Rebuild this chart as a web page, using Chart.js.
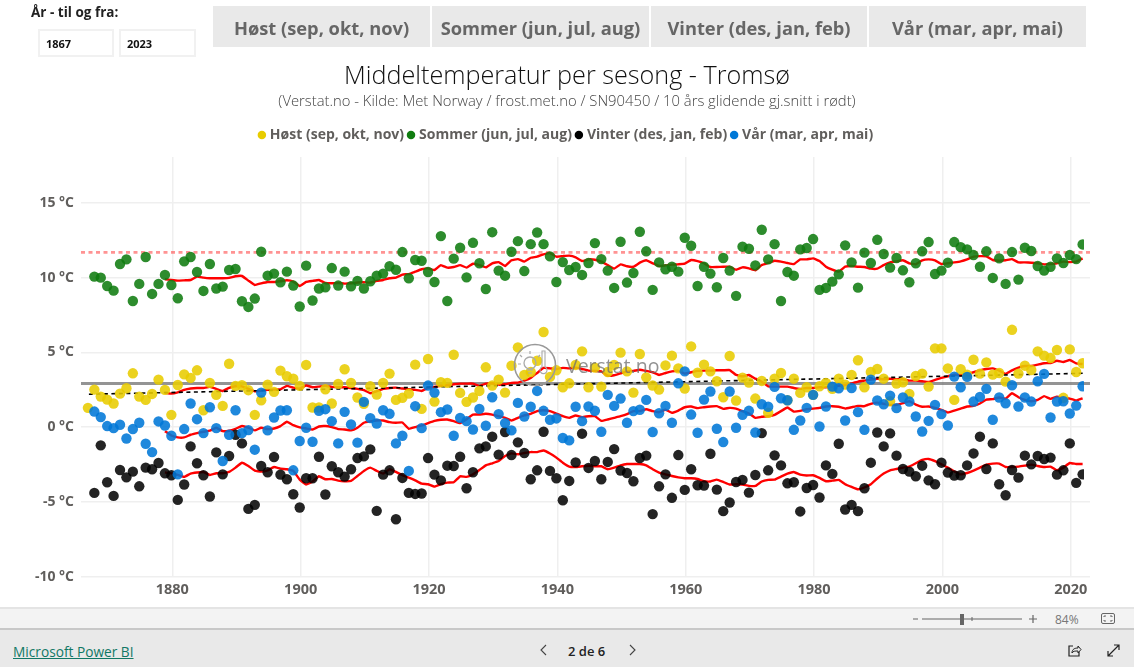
<!DOCTYPE html>
<html lang="no">
<head>
<meta charset="utf-8">
<title>Middeltemperatur per sesong - Tromsø</title>
<script src="https://cdn.jsdelivr.net/npm/chart.js@4"></script>
<style>
  html, body { margin: 0; padding: 0; background: #fff; width: 1134px; height: 667px; overflow: hidden; font-family: "Open Sans", sans-serif; }
  #wrap { position: absolute; left: 0; top: 0; width: 1134px; height: 607px; }
  .abs { position: absolute; }
  #sliceTitle { left: 31px; top: 3px; font-size: 13.5px; font-weight: 700; color: #222; }
  .yearBox { top: 29px; height: 28px; border: 2px solid #f1f1f1; box-sizing: border-box; font-size: 11px; font-weight: 700; line-height: 26px; padding-left: 6px; color: #111; }
  .season { top: 6px; height: 41px; background: #e9e9e9; color: #666; font-size: 18.3px; font-weight: 700; text-align: center; line-height: 43px; }
  #zoomBar { left: 0; top: 607px; width: 1134px; height: 23px; background: #f3f3f3; border-top: 2px solid #e4e4e4; border-bottom: 2px solid #c8c8c8; box-sizing: border-box; }
  #footBar { left: 0; top: 630px; width: 1134px; height: 37px; background: #e9e9e9; }
  #pbi { left: 13px; top: 642px; font-size: 13.7px; color: #117865; text-decoration: underline; }
  #page { left: 568px; top: 642px; font-size: 13px; font-weight: 600; color: #222; }
  #pct { left: 1055px; top: 611px; font-size: 12px; color: #777; }
  #watermark { left: 513px; top: 343px; width: 160px; height: 46px; pointer-events: none; }
  #wmText { left: 566px; top: 352px; font-size: 19.5px; color: rgba(110,110,110,.75); }
</style>
</head>
<body>
<div id="wrap"><canvas id="chart" width="1134" height="607"></canvas></div>

<div class="abs" id="sliceTitle">År - til og fra:</div>
<div class="abs yearBox" style="left:38px;width:76px">1867</div>
<div class="abs yearBox" style="left:119px;width:77px">2023</div>
<div class="abs season" style="left:213px;width:217px">Høst (sep, okt, nov)</div>
<div class="abs season" style="left:432px;width:217px">Sommer (jun, jul, aug)</div>
<div class="abs season" style="left:651px;width:216px">Vinter (des, jan, feb)</div>
<div class="abs season" style="left:869px;width:217px">Vår (mar, apr, mai)</div>

<svg class="abs" id="watermark" viewBox="0 0 160 46">
  <circle cx="22" cy="22" r="20.5" fill="none" stroke="#999" stroke-width="1.6"/>
  <circle cx="17" cy="20" r="6" fill="none" stroke="#aaa" stroke-width="1.3"/>
  <path d="M17 8v3M7 12l2 2M5 21h3M27 12l-2 2M14 27h6M15 30h4" stroke="#aaa" stroke-width="1.2" fill="none"/>
  <path d="M29 8v16a3.5 3.5 0 1 0 3 0V8z" fill="none" stroke="#aaa" stroke-width="1.1"/>
</svg>
<div class="abs" id="wmText">Verstat.no</div>

<div class="abs" id="zoomBar"></div>
<div class="abs" id="footBar"></div>
<a class="abs" id="pbi">Microsoft Power BI</a>
<svg class="abs" style="left:538px;top:643px" width="12" height="14"><path d="M8 2L3 7l5 5" fill="none" stroke="#444" stroke-width="1.1"/></svg>
<div class="abs" id="page">2 de 6</div>
<svg class="abs" style="left:626px;top:643px" width="12" height="14"><path d="M4 2l5 5-5 5" fill="none" stroke="#444" stroke-width="1.1"/></svg>
<svg class="abs" style="left:910px;top:612px" width="130" height="14">
  <path d="M3 7h5M12 7h100M119 7h8M123 3v8" stroke="#666" stroke-width="1.2" fill="none"/>
  <rect x="50" y="2" width="4" height="11" fill="#666"/>
  <path d="M62 5v4" stroke="#666"/>
</svg>
<div class="abs" id="pct">84%</div>
<svg class="abs" style="left:1100px;top:612px" width="16" height="14"><rect x="1.5" y="1.5" width="13" height="10" rx="1.5" fill="none" stroke="#666"/><path d="M4 5V4h2M10 4h2v1M4 8v1h2M12 8v1h-2" stroke="#666" fill="none"/></svg>
<svg class="abs" style="left:1067px;top:643px" width="15" height="15"><path d="M6 3H2v10h10V9" fill="none" stroke="#222" stroke-width="1.2"/><path d="M5 10c0-4 3-5 6-5V3l3 3.5L11 10V8c-3 0-5 0-6 2z" fill="none" stroke="#222" stroke-width="1"/></svg>
<svg class="abs" style="left:1106px;top:643px" width="15" height="15"><path d="M2 13L13 2M8 2h5v5M2 8v5h5" fill="none" stroke="#222" stroke-width="1.2"/></svg>

<script>
// x axis bounds and ticks
var xMin = 1865.77;
var xMax = 2023.0;
var xTicks = [1880, 1900, 1920, 1940, 1960, 1980, 2000, 2020];
var yTicks = [-10, -5, 0, 5, 10, 15];

// points sit a little left of the year gridline in the original
var yearShift = -0.15;

// season means, autumn from 1867, the others from 1868
var host = [1.29,2.51,2.04,1.84,1.58,2.24,2.6,3.6,2.04,1.82,2.22,3.18,2.49,0.82,2.82,3.53,3.29,3.8,1.13,2.96,2.16,1.42,4.24,2.76,2.8,2.47,0.82,1.8,2.84,2.36,3.78,3.4,3.24,2.76,4.16,1.31,1.31,2.53,1.58,2.89,3.87,2.96,1.98,1.56,2.73,2.18,2.96,3.58,1.82,1.96,2.24,4.18,1.22,4.56,1.71,3.0,2.96,4.84,2.29,1.69,1.98,2.42,4.0,2.78,3.18,2.31,4.11,5.33,3.49,3.69,4.44,6.36,3.36,3.8,2.67,2.93,4.16,5.07,2.67,3.98,2.71,3.69,4.16,4.98,3.73,2.31,4.89,3.33,2.78,2.51,4.13,4.78,3.93,2.58,5.4,3.64,4.18,3.73,3.07,2.0,4.76,1.78,3.31,2.98,1.91,3.09,0.96,3.24,3.62,1.8,3.24,2.29,2.67,2.16,2.73,2.96,2.56,3.24,2.84,3.49,4.47,2.67,3.69,3.89,3.24,1.73,2.91,3.0,2.22,3.42,3.58,2.71,5.27,5.27,3.93,1.82,3.87,3.51,4.51,3.58,4.33,3.51,3.62,3.04,6.51,3.58,4.11,3.82,5.07,4.78,4.62,5.16,1.96,5.2,3.69,4.27];
var sommer = [10.07,10.0,9.44,9.13,10.91,11.22,8.44,9.58,11.38,8.91,9.58,10.18,9.51,8.62,11.09,11.38,10.38,9.11,10.91,9.27,9.4,10.51,10.58,8.42,8.04,8.6,11.73,10.13,10.27,9.69,10.4,9.47,8.07,10.8,8.47,9.27,9.36,10.64,9.47,10.4,9.42,9.78,9.27,9.76,10.13,10.27,10.76,10.53,11.71,9.96,11.18,11.13,10.38,9.71,12.78,8.44,11.27,12.0,10.02,12.33,10.96,9.24,13.04,10.47,10.13,11.73,12.44,10.44,12.24,13.02,12.24,11.42,9.71,11.04,10.51,10.71,10.18,10.98,12.31,11.24,10.47,9.31,12.4,9.67,10.31,13.07,11.76,9.18,11.02,10.56,10.73,10.4,12.67,12.13,9.44,10.73,10.27,9.36,11.31,10.47,8.78,12.07,11.93,10.82,13.2,11.22,12.24,8.44,10.38,10.13,11.89,11.98,12.58,9.18,9.31,9.73,10.22,12.16,11.02,9.33,11.67,10.98,12.53,11.58,10.67,11.31,10.49,9.69,10.96,11.76,12.38,10.24,10.47,11.0,12.38,12.04,11.89,11.51,10.73,11.76,9.98,11.29,9.58,11.71,9.87,12.0,11.78,10.78,10.47,10.73,11.29,10.98,11.51,11.24,12.22];
var vinter = [-4.4,-1.22,-3.69,-4.6,-2.87,-3.36,-2.98,-3.96,-2.71,-2.82,-2.4,-3.09,-3.22,-4.87,-3.84,-1.29,-2.42,-3.22,-4.64,-1.69,-3.16,-1.93,-0.51,-1.09,-5.47,-5.2,-2.6,-3.02,-2.0,-3.18,-3.49,-4.49,-5.38,-3.42,-3.42,-1.98,-4.51,-2.62,-3.02,-3.31,-2.82,-2.07,-1.96,-1.49,-5.6,-3.18,-2.89,-6.16,-3.4,-4.4,-4.47,-4.44,-2.07,-3.18,-3.56,-2.58,-2.6,-1.98,-4.09,-3.02,-1.42,-1.29,-0.64,-1.84,-0.33,-1.87,-1.02,-1.73,-3.49,-2.89,-0.31,-2.93,-3.42,-4.89,-3.6,-2.36,-0.44,-2.73,-2.27,-3.49,-2.33,-1.47,-2.91,-3.07,-3.62,-2.07,-1.91,-5.82,-3.96,-3.16,-4.73,-1.87,-4.2,-2.82,-3.89,-3.91,-1.78,-4.18,-5.62,-5.04,-3.67,-3.53,-4.38,-3.2,-0.4,-2.89,-1.89,-2.56,-3.76,-3.69,-5.64,-4.07,-3.87,-4.71,-2.56,-3.13,-1.11,-5.51,-5.2,-5.62,-4.09,-2.38,-0.36,-1.29,-0.42,-1.91,-2.8,-2.98,-3.29,-2.58,-3.56,-3.82,-2.38,-3.04,-3.24,-3.22,-2.56,-1.76,-0.64,-2.8,-1.09,-3.82,-4.56,-2.87,-3.38,-1.91,-2.49,-1.93,-2.13,-2.04,-3.18,-2.89,-1.09,-3.73,-3.16];
var vaar = [1.04,0.67,0.07,-0.07,0.16,-0.76,-0.13,0.29,-1.11,-1.67,0.38,0.11,-0.58,-3.16,-0.13,1.58,0.53,-0.4,1.33,-0.07,-2.27,-0.51,1.13,-0.4,-0.2,-1.51,2.31,-0.22,0.64,1.11,1.13,-2.89,-0.93,-0.04,-0.98,1.09,1.2,0.4,-1.09,1.02,0.18,-1.04,1.69,0.6,0.24,1.13,0.89,-1.09,-0.58,-2.93,1.4,-0.07,2.78,2.31,1.0,1.18,-0.58,0.62,0.4,-0.16,1.22,0.09,2.0,0.87,0.27,-0.22,1.62,0.71,1.36,2.42,1.09,0.49,0.58,-0.73,-0.89,1.36,0.4,1.38,1.09,-0.31,2.16,1.42,1.91,0.29,1.07,1.16,1.82,-0.33,0.93,1.42,0.29,2.93,3.73,0.84,-0.38,1.84,2.38,-0.11,-1.0,2.38,-0.04,0.82,1.09,-0.36,1.53,1.36,2.69,1.93,1.8,-0.18,0.44,1.29,2.16,0.04,1.38,2.71,2.6,0.44,2.62,1.0,-0.18,3.18,1.78,1.53,2.11,1.27,1.98,1.71,0.71,-0.29,0.42,1.49,0.87,0.11,3.38,2.67,3.36,1.71,2.02,2.56,0.49,1.98,1.6,2.8,1.38,1.98,1.71,3.07,3.56,0.64,1.71,1.73,0.91,1.44,2.73];

// 10 year moving averages, all from 1879
var hostSnitt = [2.29,2.24,2.33,2.49,2.58,2.62,2.62,2.69,2.56,2.42,2.62,2.73,2.73,2.56,2.4,2.44,2.49,2.51,2.53,2.76,2.64,2.58,2.78,2.67,2.71,2.76,2.69,2.67,2.67,2.62,2.56,2.47,2.27,2.4,2.56,2.62,2.64,2.58,2.53,2.49,2.42,2.62,2.69,2.76,2.8,2.87,2.91,2.91,2.91,2.76,2.91,2.93,2.84,2.87,2.96,2.98,3.11,3.29,3.62,3.96,3.93,3.89,3.96,3.93,3.98,3.89,3.78,3.76,3.73,3.44,3.47,3.6,3.73,3.76,3.84,3.76,3.67,3.49,3.62,3.73,3.76,3.58,3.67,3.76,3.78,3.78,3.8,3.8,3.82,3.49,3.4,3.49,3.24,3.04,2.73,2.71,2.71,2.71,2.62,2.56,2.62,2.62,2.67,2.67,2.71,2.76,2.82,2.93,3.04,3.11,3.18,3.24,3.2,3.24,3.2,3.2,3.11,3.11,3.07,3.02,3.16,3.29,3.4,3.51,3.47,3.56,3.67,3.8,3.89,3.93,3.78,3.56,3.8,3.98,4.09,4.09,4.18,4.27,4.29,4.44,4.36,4.49,4.27,4.22];
var sommerSnitt = [9.89,9.84,9.8,9.82,9.84,10.07,10.0,9.96,9.96,9.96,9.98,10.09,10.11,9.8,9.51,9.62,9.71,9.71,9.76,9.82,9.73,9.44,9.71,9.78,9.84,9.64,9.62,9.64,9.6,9.62,9.67,9.69,9.67,9.78,9.84,9.96,10.0,10.2,10.24,10.4,10.56,10.62,10.51,10.84,10.67,10.71,10.84,10.67,10.93,10.84,10.69,10.96,11.04,10.78,11.16,11.24,11.07,11.33,11.4,11.56,11.64,11.4,11.44,11.47,11.36,11.11,11.22,11.2,11.07,10.84,10.6,10.89,10.76,10.73,11.0,11.16,10.96,10.78,10.82,10.87,10.89,10.93,11.18,11.11,10.96,10.71,10.71,10.73,10.73,10.53,10.69,10.62,10.49,10.84,10.98,11.13,11.07,10.98,10.91,11.22,11.22,11.29,11.11,10.73,10.53,10.4,10.73,10.78,10.73,10.71,10.6,10.6,10.84,11.02,11.09,11.16,10.96,10.89,11.16,11.22,11.16,10.91,10.96,11.02,11.09,11.22,11.4,11.44,11.42,11.18,11.13,11.16,11.24,11.02,11.02,11.0,10.96,10.89,10.91,10.96,11.07,11.04,11.07,11.29];
var vinterSnitt = [-3.04,-3.09,-3.2,-3.33,-3.11,-3.04,-3.0,-3.2,-3.09,-3.09,-3.0,-2.71,-2.38,-2.6,-2.91,-2.98,-2.89,-2.67,-2.78,-2.82,-2.93,-3.51,-3.84,-3.64,-3.29,-3.49,-3.47,-3.58,-3.62,-3.6,-3.27,-2.93,-2.71,-2.93,-3.11,-2.82,-3.0,-3.22,-3.38,-3.56,-3.78,-3.82,-3.98,-3.82,-3.71,-3.69,-3.29,-3.33,-3.16,-2.87,-2.56,-2.42,-2.27,-1.93,-1.76,-1.82,-1.73,-1.67,-1.67,-1.56,-1.76,-2.04,-2.38,-2.64,-2.67,-2.62,-2.58,-2.62,-2.62,-2.82,-2.71,-2.56,-2.47,-2.47,-2.47,-2.56,-2.82,-3.04,-3.16,-3.27,-3.36,-3.42,-3.42,-3.47,-3.62,-3.64,-3.51,-3.67,-3.84,-3.82,-3.84,-3.93,-3.93,-3.64,-3.53,-3.51,-3.31,-3.11,-3.0,-3.18,-3.24,-3.22,-3.4,-3.62,-3.58,-3.53,-3.82,-4.0,-4.16,-4.04,-3.82,-3.44,-3.11,-2.89,-2.8,-2.71,-2.64,-2.42,-2.2,-2.13,-2.27,-2.49,-2.71,-2.96,-3.16,-3.07,-2.91,-2.71,-2.51,-2.44,-2.44,-2.67,-2.67,-2.64,-2.58,-2.51,-2.6,-2.67,-2.64,-2.89,-2.71,-2.4,-2.47,-2.47];
var vaarSnitt = [-0.27,-0.56,-0.69,-0.69,-0.51,-0.4,-0.31,-0.24,-0.04,-0.27,-0.24,-0.11,0.07,-0.04,-0.22,-0.04,-0.13,-0.09,0.07,0.36,0.13,-0.02,-0.09,-0.16,0.04,0.07,0,-0.13,-0.16,-0.22,-0.04,0.29,0.38,0.44,0.44,0.33,0.29,0.31,-0.11,0,0.11,0.27,0.42,0.49,0.51,0.4,0.27,0.53,0.84,0.84,0.89,0.84,0.73,0.62,0.44,0.62,0.78,0.89,1.07,1.13,1.07,0.91,0.73,0.62,0.78,0.67,0.73,0.73,0.42,0.51,0.62,0.73,0.87,1.07,1.07,1.2,1.07,1.0,1.16,0.96,1.11,1.33,1.38,1.27,1.33,1.38,1.4,1.22,1.29,1.24,1.07,0.91,0.62,0.69,0.73,0.82,1.07,1.31,1.04,1.09,1.2,1.24,1.29,1.38,1.4,1.36,1.24,1.33,1.42,1.4,1.56,1.64,1.56,1.49,1.49,1.6,1.73,1.51,1.36,1.38,1.29,1.16,0.98,1.11,1.24,1.38,1.42,1.58,1.84,1.87,1.98,1.91,2.27,2.0,1.82,1.73,1.82,2.07,1.89,2.04,1.98,1.91,1.78,1.93];

// reference levels and trend ends
var refTopp = [11.69, 11.69];
var refMidt = [2.91, 2.91];
var trendYears = [1867, 2022];
var trendValues = [2.2, 3.6];

function series(values, firstYear) {
  return values.map(function (v, i) {
    return { x: firstYear + i + yearShift, y: v };
  });
}

function dots(label, values, firstYear, color, solid, order) {
  return {
    label: label, solid: solid, order: order,
    data: series(values, firstYear),
    backgroundColor: color, borderColor: color,
    pointRadius: 5.2, pointBorderWidth: 0, showLine: false,
    clip: { left: 6, top: 6, right: -6, bottom: 6 }
  };
}

function redLine(values) {
  return {
    data: series(values, 1879), order: 20, showLine: true,
    borderColor: '#ff0000', borderWidth: 2.4, pointRadius: 0, tension: 0.1
  };
}

var datasets = [
  dots('Høst (sep, okt, nov)', host, 1867, 'rgba(232,204,0,0.88)', '#e8cc00', 4),
  dots('Sommer (jun, jul, aug)', sommer, 1868, 'rgba(16,124,16,0.88)', '#107c10', 3),
  dots('Vinter (des, jan, feb)', vinter, 1868, 'rgba(0,0,0,0.86)', '#000000', 2),
  dots('Vår (mar, apr, mai)', vaar, 1868, 'rgba(0,120,215,0.88)', '#0078d7', 1),
  redLine(hostSnitt),
  redLine(sommerSnitt),
  redLine(vinterSnitt),
  redLine(vaarSnitt),
  { data: [{ x: xMin, y: refTopp[0] }, { x: xMax, y: refTopp[1] }], order: 30, showLine: true,
    borderColor: 'rgba(255,40,40,0.5)', borderWidth: 2.6, borderDash: [4, 3.5], pointRadius: 0 },
  { data: [{ x: xMin, y: refMidt[0] }, { x: xMax, y: refMidt[1] }], order: 31, showLine: true,
    borderColor: 'rgba(90,90,90,0.65)', borderWidth: 3, pointRadius: 0 },
  { data: [{ x: trendYears[0], y: trendValues[0] }, { x: trendYears[1], y: trendValues[1] }], order: 19, showLine: true,
    borderColor: '#000000', borderWidth: 1.6, borderDash: [4, 3.5], pointRadius: 0 }
];

// a little more air under the legend
var legendGap = {
  id: 'legendGap',
  beforeInit: function (chart) {
    var fit = chart.legend.fit;
    chart.legend.fit = function () {
      fit.call(chart.legend);
      this.height += 5;
    };
  }
};

new Chart(document.getElementById('chart').getContext('2d'), {
  type: 'scatter',
  data: { datasets: datasets },
  plugins: [legendGap],
  options: {
    responsive: false,
    animation: false,
    layout: { padding: { left: 0, right: 0, bottom: 3, top: 62 } },
    plugins: {
      tooltip: { enabled: false },
      title: {
        display: true,
        text: 'Middeltemperatur per sesong - Tromsø',
        color: '#111',
        font: { family: '"Open Sans"', size: 25.2, weight: 300 },
        padding: { top: 0, bottom: 0 }
      },
      subtitle: {
        display: true,
        text: '(Verstat.no - Kilde: Met Norway / frost.met.no / SN90450 / 10 års glidende gj.snitt i rødt)',
        color: '#444',
        font: { family: '"Open Sans"', size: 14.8, weight: 300 },
        padding: { top: 1, bottom: 11 }
      },
      legend: {
        display: true,
        labels: {
          usePointStyle: true,
          boxHeight: 6,
          boxWidth: 2,
          padding: 6,
          color: '#605e5c',
          font: { family: '"Open Sans"', size: 14, weight: 700 },
          generateLabels: function (chart) {
            return Chart.defaults.plugins.legend.labels.generateLabels(chart)
              .filter(function (l) { return datasets[l.datasetIndex].solid; })
              .map(function (l) {
                var c = datasets[l.datasetIndex].solid;
                l.fillStyle = c; l.strokeStyle = c; l.lineWidth = 0; l.pointStyle = 'circle';
                l.fontColor = '#605e5c';
                return l;
              })
              .sort(function (a, b) { return a.datasetIndex - b.datasetIndex; });
          }
        }
      }
    },
    scales: {
      x: {
        type: 'linear', min: xMin, max: xMax,
        afterBuildTicks: function (axis) { axis.ticks = xTicks.map(function (v) { return { value: v }; }); },
        grid: { color: '#efefef', lineWidth: 1.5, drawTicks: false },
        border: { display: false },
        ticks: {
          maxRotation: 0, padding: 5, color: '#605e5c',
          font: { family: '"Open Sans"', size: 14.5, weight: 700 },
          callback: function (v) { return String(v); }
        }
      },
      y: {
        type: 'linear', min: -10, max: 18.07,
        afterBuildTicks: function (axis) { axis.ticks = yTicks.map(function (v) { return { value: v }; }); },
        afterFit: function (axis) { axis.width = 81; },
        grid: { color: '#efefef', lineWidth: 1.5, drawTicks: false },
        border: { display: false },
        ticks: {
          padding: 7, color: '#605e5c',
          font: { family: '"Open Sans"', size: 14, weight: 700 },
          callback: function (v) { return v + ' °C'; }
        }
      },
      // empty margin on the right, title and legend still centre on the full width
      margin: {
        position: 'right', display: true,
        afterFit: function (axis) { axis.width = 44; },
        grid: { display: false },
        border: { display: false },
        ticks: { display: false }
      }
    }
  }
});
</script>
</body>
</html>
